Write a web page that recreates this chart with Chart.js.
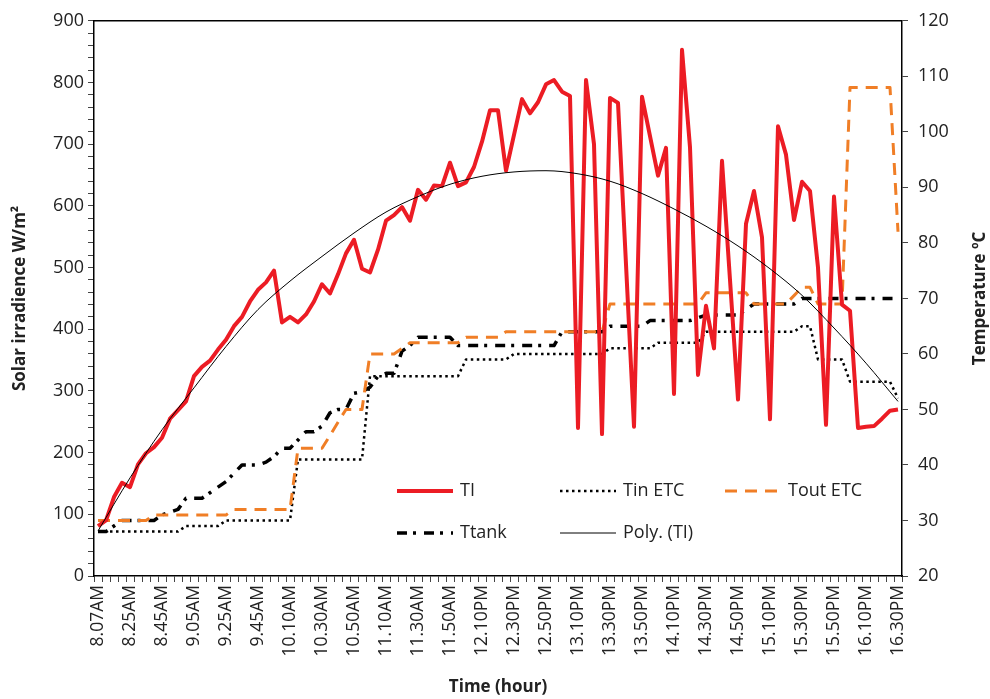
<!DOCTYPE html>
<html>
<head>
<meta charset="utf-8">
<title>Solar irradiance and ETC temperatures</title>
<script src="https://cdn.jsdelivr.net/npm/chart.js@4.4.0/dist/chart.umd.min.js"></script>
<style>
  html, body { margin: 0; padding: 0; background: #fff; }
  #wrap { width: 990px; height: 699px; }
</style>
</head>
<body>
<div id="wrap"><canvas id="chart" width="990" height="699"></canvas></div>
<script>
// time labels printed on the x axis (one every 4th reading)
const timeTicks = ['8.07AM', '8.25AM', '8.45AM', '9.05AM', '9.25AM', '9.45AM', '10.10AM',
  '10.30AM', '10.50AM', '11.10AM', '11.30AM', '11.50AM', '12.10PM', '12.30PM', '12.50PM',
  '13.10PM', '13.30PM', '13.50PM', '14.10PM', '14.30PM', '14.50PM', '15.10PM', '15.30PM',
  '15.50PM', '16.10PM', '16.30PM'];

// solar irradiance, W/m2
const TI = [81, 90, 128, 151, 144, 181, 199, 209, 224, 255,
  269, 283, 324, 339, 349, 367, 383, 405, 420, 445,
  464, 476, 495, 411, 420, 411, 424, 445, 473, 458,
  489, 523, 545, 498, 492, 529, 576, 585, 598, 576,
  626, 610, 633, 632, 670, 632, 638, 663, 704, 755,
  755, 657, 715, 773, 750, 768, 797, 804, 785, 778,
  240, 804, 700, 230, 775, 767, 505, 242, 777, 713,
  649, 694, 295, 853, 695, 326, 438, 369, 673, 480,
  286, 571, 624, 549, 254, 729, 683, 577, 639, 624,
  500, 245, 615, 440, 430, 240, 242, 243, 255, 268,
  270];

// temperatures, deg C
const TinETC = [28, 28, 28, 28, 28, 28, 28, 28, 28, 28,
  28, 29, 29, 29, 29, 29, 30, 30, 30, 30,
  30, 30, 30, 30, 30, 41, 41, 41, 41, 41,
  41, 41, 41, 41, 56, 56, 56, 56, 56, 56,
  56, 56, 56, 56, 56, 56, 59, 59, 59, 59,
  59, 59, 60, 60, 60, 60, 60, 60, 60, 60,
  60, 60, 60, 60, 61, 61, 61, 61, 61, 61,
  62, 62, 62, 62, 62, 62, 64, 64, 64, 64,
  64, 64, 64, 64, 64, 64, 64, 64, 65, 65,
  59, 59, 59, 59, 55, 55, 55, 55, 55, 55,
  52];

const ToutETC = [30, 30, 30, 30, 30, 30, 30, 31, 31, 31,
  31, 31, 31, 31, 31, 31, 31, 32, 32, 32,
  32, 32, 32, 32, 32, 43, 43, 43, 43, 45.3,
  47.7, 50, 50, 50, 60, 60, 60, 60, 61, 62,
  62, 62, 62, 62, 62, 62, 63, 63, 63, 63,
  63, 64, 64, 64, 64, 64, 64, 64, 64, 64,
  64, 64, 64, 64, 69, 69, 69, 69, 69, 69,
  69, 69, 69, 69, 69, 69, 71, 71, 71, 71,
  71, 71, 69, 69, 69, 69, 69, 70.5, 72, 72,
  69, 69, 69, 69, 108, 108, 108, 108, 108, 108,
  82];

const Ttank = [28, 28, 29, 30, 30, 30, 30, 30, 31, 31.5,
  32, 34, 34, 34, 35, 36, 37, 38.5, 40, 40,
  40, 40.5, 41.5, 43, 43, 44.5, 46, 46, 47, 49.4,
  50, 50, 52.9, 53.2, 54, 56, 56.5, 56.5, 60.5, 61.5,
  63, 63, 63, 63, 63, 61.5, 61.5, 61.5, 61.5, 61.5,
  61.5, 61.5, 61.5, 61.5, 61.5, 61.5, 61.5, 61.5, 64, 64,
  64, 64, 64, 64, 65, 65, 65, 65, 65, 66,
  66, 66, 66, 66, 66, 66.5, 67, 67, 67, 67,
  67, 68, 69, 69, 69, 69, 69, 69, 70, 70,
  70, 70, 70, 70, 70, 70, 70, 70, 70, 70,
  70];

// polynomial trend of TI, taken at each labelled time
const polyTI = [73, 159, 237, 305, 372, 432, 478, 518, 556, 590, 615, 635, 648,
  655, 657, 652, 640, 620, 595, 567, 535, 498, 455, 402, 345, 283];

const categories = TI.map((_, i) => (i % 4 === 0 ? timeTicks[i / 4] : ''));
const polyData = TI.map((_, i) => (i % 4 === 0 ? polyTI[i / 4] : null));

const FONT = "'Open Sans', 'DejaVu Sans', sans-serif";
const TEXT = '#222';
Chart.defaults.font.family = FONT;
Chart.defaults.color = TEXT;

// top edge of the plot frame
const frame = {
  id: 'frame',
  afterDatasetsDraw(chart) {
    const { ctx, chartArea: a } = chart;
    ctx.save();
    ctx.strokeStyle = '#000';
    ctx.lineWidth = 1.5;
    ctx.beginPath();
    ctx.moveTo(a.left, a.top);
    ctx.lineTo(a.right, a.top);
    ctx.stroke();
    ctx.restore();
  }
};

// legend drawn inside the plot, two rows
const legendSlots = [
  { x: 397, y: 491 }, { x: 560, y: 491 }, { x: 725, y: 491 },
  { x: 397, y: 533 }, { x: 560, y: 533 }
];
const legendBox = {
  id: 'legendBox',
  afterDraw(chart) {
    const { ctx } = chart;
    ctx.save();
    ctx.font = '18px ' + FONT;
    ctx.textBaseline = 'middle';
    chart.data.datasets.forEach((ds, i) => {
      const s = legendSlots[i];
      ctx.beginPath();
      ctx.setLineDash(ds.borderDash || []);
      ctx.lineWidth = ds.borderWidth;
      ctx.strokeStyle = ds.borderColor;
      ctx.moveTo(s.x, s.y);
      ctx.lineTo(s.x + 56, s.y);
      ctx.stroke();
      ctx.setLineDash([]);
      ctx.fillStyle = TEXT;
      ctx.fillText(ds.label, s.x + 63, s.y);
    });
    ctx.restore();
  }
};

// right axis title, reading bottom to top like the left one
const rightTitle = {
  id: 'rightTitle',
  afterDraw(chart) {
    const { ctx, chartArea: a } = chart;
    ctx.save();
    ctx.translate(980, (a.top + a.bottom) / 2);
    ctx.rotate(-Math.PI / 2);
    ctx.font = 'bold 17px ' + FONT;
    ctx.textAlign = 'center';
    ctx.textBaseline = 'middle';
    ctx.fillStyle = TEXT;
    ctx.fillText('Temperature \u00baC', 0, 0);
    ctx.restore();
  }
};

const ctx = document.getElementById('chart');
new Chart(ctx, {
  type: 'line',
  data: {
    labels: categories,
    datasets: [
      { label: 'TI', data: TI, yAxisID: 'yW', borderColor: '#EC1C24', borderWidth: 4, order: 1 },
      { label: 'Tin ETC', data: TinETC, yAxisID: 'yT', borderColor: '#000', borderWidth: 2.5, borderDash: [2.5, 3.5], order: 3 },
      { label: 'Tout ETC', data: ToutETC, yAxisID: 'yT', borderColor: '#F07E26', borderWidth: 3, borderDash: [12, 8], order: 2 },
      { label: 'Ttank', data: Ttank, yAxisID: 'yT', borderColor: '#000', borderWidth: 3.5, borderDash: [10, 6, 3, 8], order: 4 },
      { label: 'Poly. (TI)', data: polyData, yAxisID: 'yW', borderColor: '#000', borderWidth: 1,
        spanGaps: true, cubicInterpolationMode: 'monotone', order: 0 }
    ]
  },
  options: {
    responsive: false,
    animation: false,
    layout: { padding: { top: 20, left: 0, right: 0, bottom: 0 } },
    elements: {
      point: { radius: 0, hoverRadius: 0 },
      line: { tension: 0, borderJoinStyle: 'round', fill: false }
    },
    plugins: {
      legend: { display: false },
      tooltip: { enabled: false }
    },
    scales: {
      x: {
        offset: true,
        grid: { offset: true, drawOnChartArea: false, tickLength: 6, tickColor: '#444', tickWidth: 1 },
        border: { color: '#000', width: 1.5 },
        ticks: { autoSkip: false, minRotation: 90, maxRotation: 90, padding: 3, font: { size: 17.5 }, color: TEXT },
        title: { display: true, text: 'Time (hour)', font: { size: 17, weight: 'bold' }, padding: { top: 2, bottom: 2 } },
        afterFit: s => { s.height = 123; }
      },
      yW: {
        position: 'left',
        min: 0,
        max: 900,
        grid: { drawOnChartArea: false, tickLength: 6, tickColor: '#444' },
        border: { color: '#000', width: 1.5 },
        ticks: {
          stepSize: 20,
          autoSkip: false,
          padding: 4,
          font: { size: 18 },
          color: TEXT,
          callback: v => (v % 100 === 0 ? v : '')
        },
        title: { display: true, text: 'Solar irradience W/m\u00b2', font: { size: 17, weight: 'bold' }, padding: { top: 10, bottom: 0 } },
        afterFit: s => { s.width = 94; }
      },
      yT: {
        position: 'right',
        min: 20,
        max: 120,
        grid: { drawOnChartArea: false, tickLength: 6, tickColor: '#444' },
        border: { color: '#000', width: 1.5 },
        ticks: { stepSize: 10, padding: 10, font: { size: 18 }, color: TEXT },
        afterFit: s => { s.width = 88; }
      }
    }
  },
  plugins: [frame, legendBox, rightTitle]
});
</script>
</body>
</html>
